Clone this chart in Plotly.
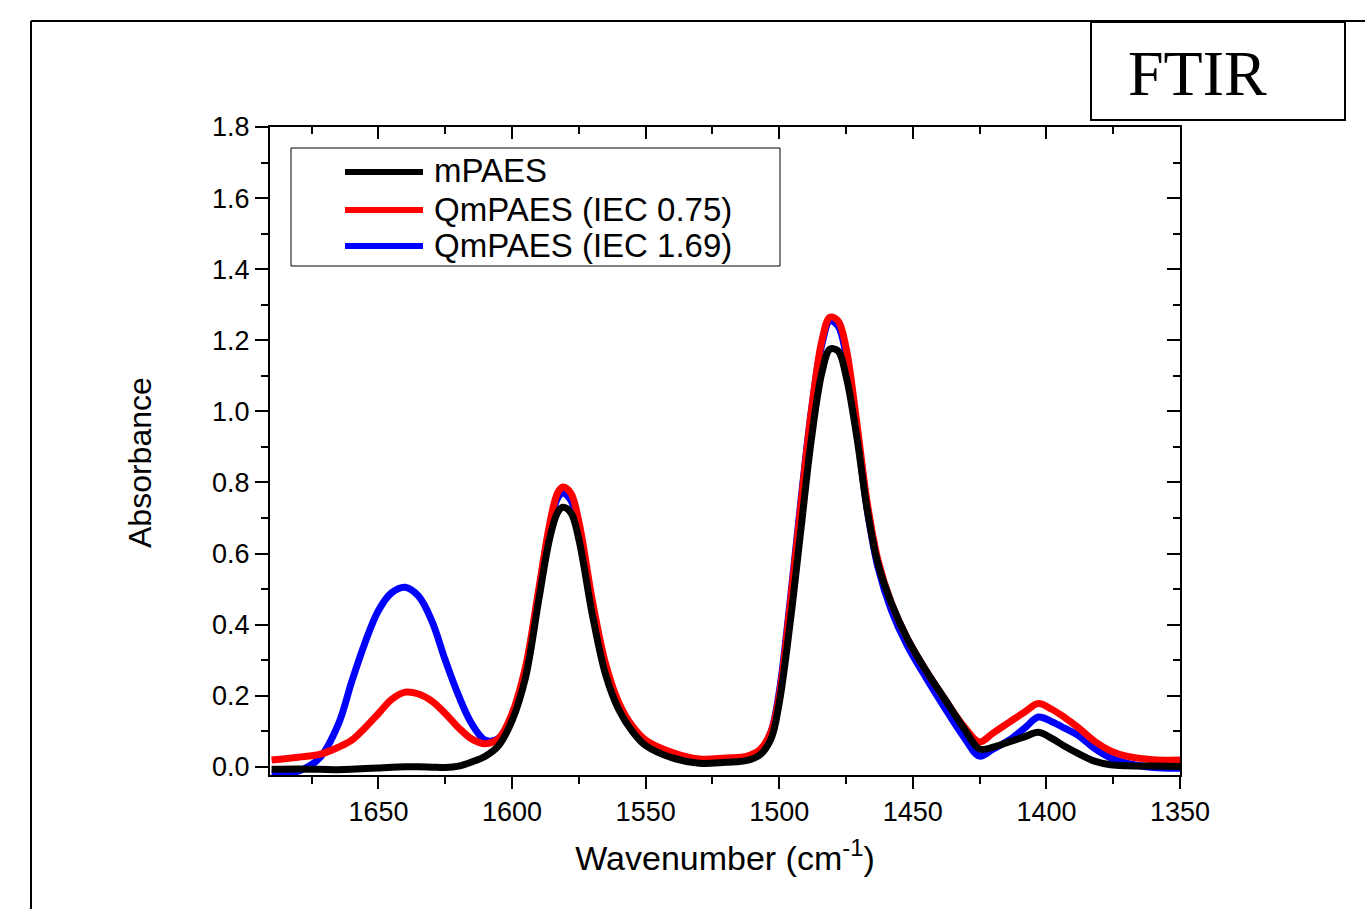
import plotly.graph_objects as go

# Wavenumber grid (cm^-1) shared by the three spectra
wavenumber = [1690, 1680, 1672, 1665, 1660, 1655, 1650, 1645, 1640, 1635, 1630, 1625,
              1620, 1615, 1610, 1605, 1600, 1595, 1590, 1586, 1583, 1581, 1578, 1575,
              1570, 1565, 1560, 1555, 1550, 1540, 1530, 1520, 1512, 1507, 1503, 1500,
              1496, 1492, 1488, 1484, 1481, 1478, 1475, 1471, 1467, 1463, 1458, 1452,
              1445, 1438, 1431, 1425, 1420, 1414, 1408, 1403, 1398, 1393, 1388, 1382,
              1376, 1370, 1360, 1350]

abs_mpaes = [-0.007, -0.006, -0.007, -0.008, -0.007, -0.005, -0.003, -0.001, 0.0, 0.0, -0.001, -0.002,
             0.002, 0.014, 0.03, 0.06, 0.13, 0.25, 0.47, 0.64, 0.715, 0.73, 0.715, 0.64,
             0.43, 0.26, 0.16, 0.10, 0.06, 0.025, 0.01, 0.013, 0.018, 0.035, 0.08, 0.18,
             0.40, 0.66, 0.92, 1.11, 1.175, 1.17, 1.10, 0.93, 0.72, 0.57, 0.46, 0.36,
             0.27, 0.19, 0.11, 0.05, 0.055, 0.07, 0.085, 0.097, 0.08, 0.057, 0.037, 0.016,
             0.006, 0.003, 0.002, 0.001]

abs_iec075 = [0.019, 0.027, 0.035, 0.055, 0.075, 0.11, 0.15, 0.19, 0.21, 0.205, 0.185, 0.15,
              0.11, 0.078, 0.065, 0.08, 0.15, 0.28, 0.50, 0.68, 0.77, 0.787, 0.77, 0.69,
              0.47, 0.29, 0.18, 0.115, 0.075, 0.04, 0.022, 0.025, 0.03, 0.05, 0.10, 0.20,
              0.45, 0.73, 1.00, 1.20, 1.265, 1.255, 1.18, 0.97, 0.74, 0.58, 0.46, 0.36,
              0.27, 0.19, 0.115, 0.07, 0.095, 0.125, 0.155, 0.178, 0.162, 0.138, 0.11, 0.072,
              0.045, 0.03, 0.02, 0.019]

abs_iec169 = [-0.02, -0.012, 0.025, 0.12, 0.24, 0.35, 0.44, 0.49, 0.505, 0.48, 0.41, 0.30,
              0.20, 0.12, 0.075, 0.08, 0.145, 0.27, 0.49, 0.67, 0.755, 0.77, 0.75, 0.67,
              0.45, 0.28, 0.17, 0.105, 0.065, 0.03, 0.015, 0.017, 0.022, 0.045, 0.10, 0.21,
              0.46, 0.74, 1.00, 1.19, 1.255, 1.24, 1.16, 0.95, 0.72, 0.56, 0.44, 0.34,
              0.25, 0.165, 0.085, 0.03, 0.05, 0.075, 0.11, 0.14, 0.127, 0.108, 0.088, 0.052,
              0.025, 0.01, -0.002, -0.004]

series_names = ["mPAES", "QmPAES (IEC 0.75)", "QmPAES (IEC 1.69)"]
series_colors = ["#000000", "#ff0000", "#0000ff"]

x_ticks = [1650, 1600, 1550, 1500, 1450, 1400, 1350]
y_ticks = [0.0, 0.2, 0.4, 0.6, 0.8, 1.0, 1.2, 1.4, 1.6, 1.8]

X_RANGE = [1690.6, 1350]
Y_RANGE = [-0.023, 1.8]

W, H = 1365, 909
ML, MR, MT, MB = 270, 185, 127, 134
PW, PH = W - ML - MR, H - MT - MB


def px(xpix):
    return (xpix - ML) / PW


def py(ypix):
    return (H - MB - ypix) / PH


FONT = "Liberation Sans, Arial, sans-serif"

fig = go.Figure()

# draw order: blue, red, black on top
for ys, name, col in [(abs_iec169, series_names[2], series_colors[2]),
                      (abs_iec075, series_names[1], series_colors[1]),
                      (abs_mpaes, series_names[0], series_colors[0])]:
    fig.add_trace(go.Scatter(x=wavenumber, y=ys, mode="lines", name=name,
                             line=dict(color=col, width=7, shape="spline", smoothing=1.0),
                             showlegend=False))

# empty trace so the mirrored top/right axes are drawn
fig.add_trace(go.Scatter(x=[None], y=[None], xaxis="x2", yaxis="y2", showlegend=False,
                         hoverinfo="skip"))

axis_common = dict(showgrid=False, zeroline=False, showline=True, linecolor="black",
                   linewidth=2, tickcolor="black", tickwidth=2)

fig.update_layout(
    width=W, height=H,
    margin=dict(l=ML, r=MR, t=MT, b=MB),
    paper_bgcolor="white", plot_bgcolor="white",
    font=dict(family=FONT, color="black"),
    xaxis=dict(range=X_RANGE, tickvals=x_ticks, ticks="outside", ticklen=12,
               tickfont=dict(size=27, family=FONT),
               minor=dict(dtick=25, tick0=1350, ticks="outside", ticklen=7,
                          tickwidth=2, tickcolor="black"),
               title=dict(text="Wavenumber (cm<sup>-1</sup>)",
                          font=dict(size=34, family=FONT), standoff=20),
               **axis_common),
    yaxis=dict(range=Y_RANGE, tickvals=y_ticks, tickformat=".1f", ticks="outside",
               ticklen=13, tickfont=dict(size=27, family=FONT),
               minor=dict(dtick=0.1, tick0=0, ticks="outside", ticklen=7,
                          tickwidth=2, tickcolor="black"),
               **axis_common),
    xaxis2=dict(range=X_RANGE, overlaying="x", side="top", anchor="y", tickvals=x_ticks,
                ticks="inside", ticklen=12, showticklabels=False,
                minor=dict(dtick=25, tick0=1350, ticks="inside", ticklen=7,
                           tickwidth=2, tickcolor="black"),
                **axis_common),
    yaxis2=dict(range=Y_RANGE, overlaying="y", side="right", anchor="x", tickvals=y_ticks,
                ticks="inside", ticklen=13, showticklabels=False,
                minor=dict(dtick=0.1, tick0=0, ticks="inside", ticklen=7,
                           tickwidth=2, tickcolor="black"),
                **axis_common),
)

shapes = []
annotations = []

# y-axis title
annotations.append(dict(text="Absorbance", xref="paper", yref="paper", x=px(140), y=py(463),
                        xanchor="center", yanchor="middle", textangle=-90, showarrow=False,
                        font=dict(family=FONT, size=32, color="black")))

# outer figure frame (top and left edges)
shapes.append(dict(type="line", xref="paper", yref="paper", x0=px(31), y0=py(21),
                   x1=px(1366), y1=py(21), line=dict(color="black", width=2)))
shapes.append(dict(type="line", xref="paper", yref="paper", x0=px(31), y0=py(21),
                   x1=px(31), y1=py(910), line=dict(color="black", width=2)))

# FTIR label box
shapes.append(dict(type="rect", xref="paper", yref="paper", x0=px(1091), y0=py(120),
                   x1=px(1345), y1=py(22), line=dict(color="black", width=2),
                   fillcolor="white"))
annotations.append(dict(text="FTIR", xref="paper", yref="paper", x=px(1197), y=py(73),
                        xanchor="center", yanchor="middle", showarrow=False,
                        font=dict(family="Liberation Serif, Times New Roman, serif",
                                  size=64, color="black")))

# legend box with line samples
shapes.append(dict(type="rect", xref="paper", yref="paper", x0=px(291), y0=py(266),
                   x1=px(780), y1=py(148), line=dict(color="black", width=1),
                   fillcolor="rgba(0,0,0,0)"))
for name, col, ypix in zip(series_names, series_colors, [172, 210, 246]):
    shapes.append(dict(type="line", xref="paper", yref="paper", x0=px(345), y0=py(ypix),
                       x1=px(423), y1=py(ypix), line=dict(color=col, width=6)))
    annotations.append(dict(text=name, xref="paper", yref="paper", x=px(432), y=py(ypix - 1),
                            xanchor="left", yanchor="middle", showarrow=False,
                            font=dict(family=FONT, size=33, color="black")))

fig.update_layout(shapes=shapes, annotations=annotations)

fig.write_html("out.html")
